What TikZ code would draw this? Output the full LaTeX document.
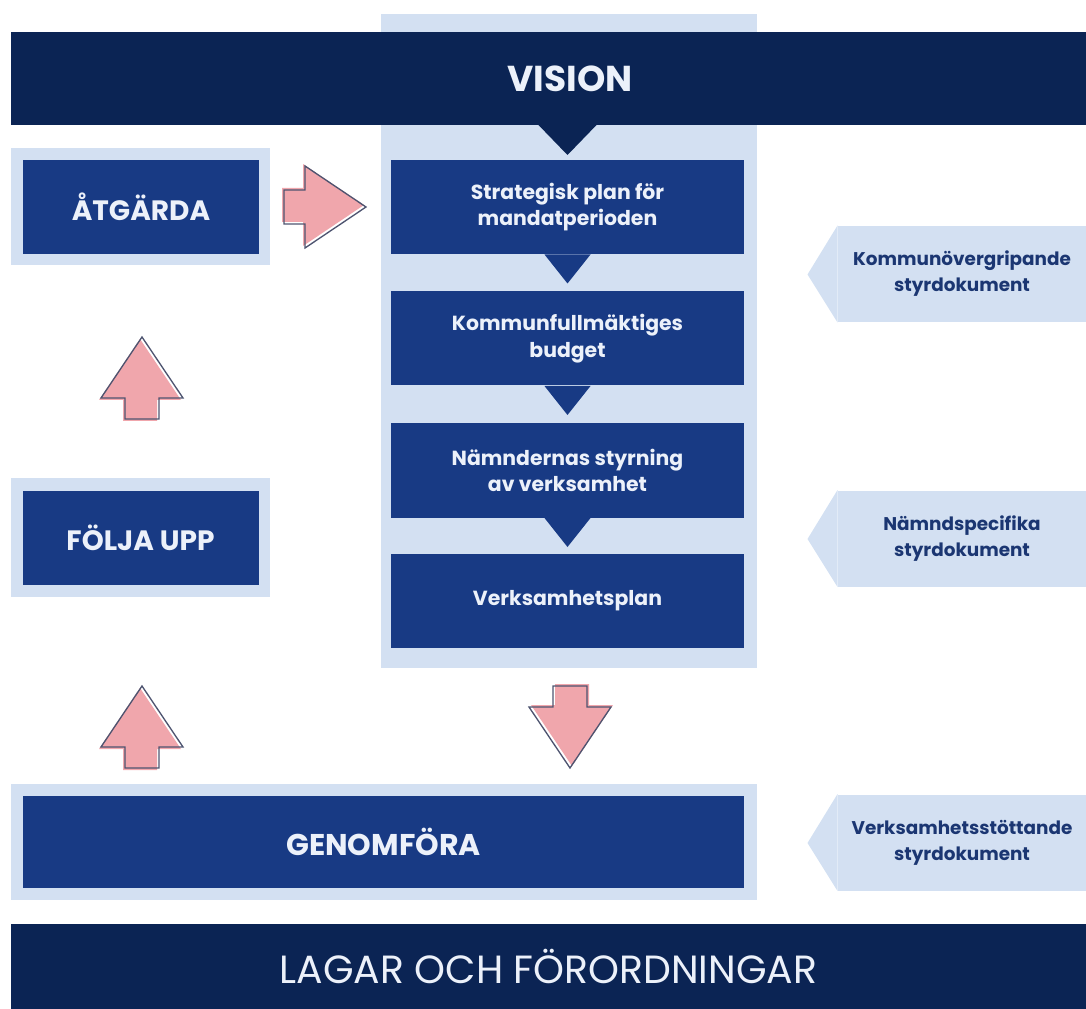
\documentclass[tikz,border=0pt]{standalone}
\usepackage{fontspec}
\setmainfont{Poppins}
\usetikzlibrary{positioning}

\definecolor{darknavy}{RGB}{11,36,84}
\definecolor{boxnavy}{RGB}{24,58,132}
\definecolor{paleblue}{RGB}{211,224,242}
\definecolor{arrowpink}{RGB}{240,166,172}
\definecolor{arrowline}{RGB}{78,84,112}
\definecolor{tagtext}{RGB}{27,54,114}
\definecolor{boxtext}{RGB}{236,241,250}

\tikzset{every picture/.style={line width=0.75pt}}
\tikzset{
  navybox/.style={fill=boxnavy, text=boxtext, inner sep=0pt, align=center,
    font=\fontsize{15.3}{20}\selectfont\bfseries},
  bigbox/.style={navybox, minimum width=177pt, minimum height=70.5pt,
    font=\fontsize{21}{25}\selectfont\bfseries},
  bar/.style={fill=darknavy, text=boxtext, inner sep=0pt,
    minimum width=806.25pt},
  tagbox/.style={fill=paleblue, text=tagtext, inner sep=0pt, align=center,
    minimum width=186pt, minimum height=72pt,
    font=\fontsize{13.8}{19.5}\selectfont\bfseries},
  blkarrow/.pic={
    \fill[arrowpink] (-43,-15) -- (-22,-15) -- (-22,-39) -- (39,2) -- (-22,43) -- (-22,19) -- (-43,19) -- cycle;
    \draw[arrowline, line width=1pt, line join=miter] (-41,-17) -- (-20,-17) -- (-20,-41) -- (41,0) -- (-20,41) -- (-20,17) -- (-41,17) -- cycle;
  }
}

\begin{document}
\begin{tikzpicture}[x=0.75pt,y=0.75pt,yscale=-1,xscale=1]
\useasboundingbox (0,0) rectangle (1086,1009);

%Shape: Rectangle [pale column behind the plan]
\fill[paleblue] (381,14) rectangle (757,668);
%Shape: Rectangle [pale frames]
\fill[paleblue] (11,148) rectangle (270,265);
\fill[paleblue] (11,478) rectangle (270,597);
\fill[paleblue] (11,784) rectangle (757,900);
%Shape: Rectangle [vision bar]
\fill[darknavy] (11,32) rectangle (1086,125);

% Text Node
\node (vision) [text=boxtext, font=\fontsize{27}{32}\selectfont\bfseries] at (570,78.5) {VISION};
% Text Node
\node (lagar) [bar, minimum height=63.75pt, font=\fontsize{29.5}{34}\selectfont] at (548.5,966.5) {LAGAR OCH FÖRORDNINGAR};

% Text Node
\node (strat) [navybox, minimum width=264.75pt, minimum height=70.5pt] at (567.5,207) {Strategisk plan för\\mandatperioden};
% Text Node
\node (budget) [navybox, minimum width=264.75pt, minimum height=70.5pt] at (567.5,338.5) {Kommunfullmäktiges\\budget};
% Text Node
\node (namnd) [navybox, minimum width=264.75pt, minimum height=70.5pt] at (567.5,470.5) {Nämndernas styrning\\av verksamhet};
% Text Node
\node (vplan) [navybox, minimum width=264.75pt, minimum height=70.5pt] at (567.5,601) {Verksamhetsplan};

% Text Node
\node (atgarda) [bigbox] at (141,207) {ÅTGÄRDA};
% Text Node
\node (folja) [bigbox] at (140.5,537.5) {FÖLJA UPP};
% Text Node
\node (genom) [bigbox, minimum width=540.75pt, minimum height=69pt, font=\fontsize{22.5}{26}\selectfont\bfseries] at (383.5,842) {GENOMFÖRA};

%Shape: Triangle [pointers down the column]
\fill[darknavy] (strat.north |- 0,124) +(-30,0) -- +(30,0) -- +(0,31) -- cycle;
\fill[boxnavy] (strat.south) +(-23,0) -- +(23,0) -- +(0,29) -- cycle;
\fill[boxnavy] (budget.south) +(-23,0) -- +(23,0) -- +(0,29) -- cycle;
\fill[boxnavy] (namnd.south) +(-23,0) -- +(23,0) -- +(0,29) -- cycle;

% Text Node
\node (kommun) [tagbox] at (962,274) {Kommunövergripande\\styrdokument};
\fill[paleblue] (kommun.north west) -- (kommun.south west) -- ++(-30,-48) -- cycle;
% Text Node
\node (specif) [tagbox] at (962,538.5) {Nämndspecifika\\styrdokument};
\fill[paleblue] (specif.north west) -- (specif.south west) -- ++(-30,-48) -- cycle;
% Text Node
\node (stott) [tagbox] at (962,842.5) {Verksamhetsstöttande\\styrdokument};
\fill[paleblue] (stott.north west) -- (stott.south west) -- ++(-30,-48) -- cycle;

%Shape: Block arrows
\pic at (325,207) {blkarrow};
\pic[rotate=90] at (142,378) {blkarrow};
\pic[rotate=90] at (142,727) {blkarrow};
\pic[rotate=-90] at (570,727) {blkarrow};

\end{tikzpicture}
\end{document}
